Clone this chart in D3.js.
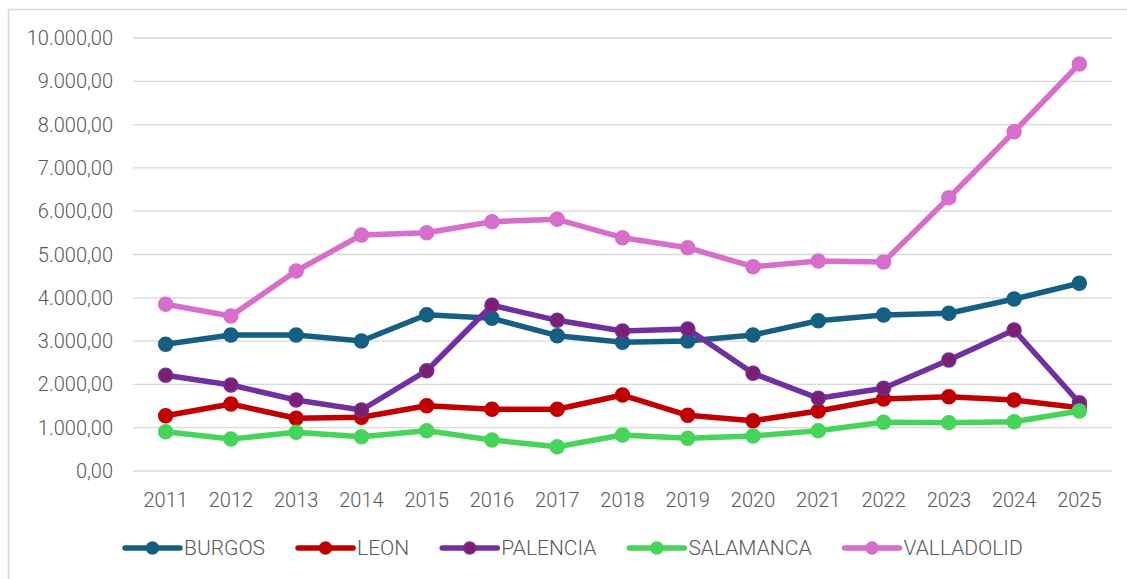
<!DOCTYPE html>
<html>
<head>
<meta charset="utf-8">
<script src="https://cdn.jsdelivr.net/npm/d3@7"></script>
<style>
  html, body { margin: 0; padding: 0; background: #fff; }
  svg { display: block; }
  text { font-family: Roboto, "Liberation Sans", sans-serif; font-weight: 300; fill: #595959; }
</style>
</head>
<body>
<div id="chart"></div>
<script>
const years = ['2011','2012','2013','2014','2015','2016','2017','2018','2019','2020','2021','2022','2023','2024','2025'];
const yTicks = [0, 1000, 2000, 3000, 4000, 5000, 6000, 7000, 8000, 9000, 10000];

const burgos     = [2926, 3141, 3141, 3002, 3610, 3526, 3125, 2972, 3002, 3141, 3471, 3603, 3642, 3972, 4335];
const leon       = [1277, 1547, 1217, 1240, 1508, 1425, 1425, 1755, 1286, 1162, 1386, 1663, 1716, 1640, 1462];
const palencia   = [2210, 1986, 1640, 1409, 2316, 3827, 3480, 3233, 3279, 2256, 1679, 1910, 2563, 3256, 1577];
const salamanca  = [908, 739, 894, 792, 931, 716, 561, 831, 755, 808, 931, 1125, 1117, 1139, 1386];
const valladolid = [3850, 3580, 4619, 5450, 5504, 5758, 5813, 5388, 5157, 4718, 4850, 4827, 6312, 7836, 9400];

const series = [
  { name: 'BURGOS', values: burgos, color: '#156082', fill: '#156082' },
  { name: 'LEON', values: leon, color: '#c00000', fill: '#c00000' },
  { name: 'PALENCIA', values: palencia, color: '#7030a0', fill: '#7b2070' },
  { name: 'SALAMANCA', values: salamanca, color: '#47d45a', fill: '#47d45a' },
  { name: 'VALLADOLID', values: valladolid, color: '#d86ecc', fill: '#d86ecc' }
];

const width = 1127, height = 579;
const svg = d3.select('#chart').append('svg')
  .attr('width', width)
  .attr('height', height);

// chart frame (cropped at right/bottom)
svg.append('rect')
  .attr('x', 8.5).attr('y', 9.5)
  .attr('width', width + 20).attr('height', height + 20)
  .attr('fill', 'none')
  .attr('stroke', '#d9d9d9')
  .attr('stroke-width', 1.5);

const x = d3.scaleBand().domain(years).range([133, 1112]);
const y = d3.scaleLinear().domain([0, 10000]).range([471, 38]);

const fmt = v => d3.format(',.2f')(v).replace(/,/g, 'X').replace('.', ',').replace(/X/g, '.');

// gridlines
svg.append('g')
  .selectAll('line')
  .data(yTicks)
  .enter().append('line')
  .attr('x1', 133).attr('x2', 1112)
  .attr('y1', d => y(d)).attr('y2', d => y(d))
  .attr('stroke', '#d9d9d9')
  .attr('stroke-width', 1.3);

// y labels
svg.append('g')
  .selectAll('text')
  .data(yTicks)
  .enter().append('text')
  .attr('x', 113)
  .attr('y', d => y(d))
  .attr('dy', '0.35em')
  .attr('text-anchor', 'end')
  .style('font-size', '20px')
  .text(d => fmt(d));

// x labels
svg.append('g')
  .selectAll('text')
  .data(years)
  .enter().append('text')
  .attr('x', d => x(d) + x.bandwidth() / 2)
  .attr('y', 500)
  .attr('dy', '0.35em')
  .attr('text-anchor', 'middle')
  .style('font-size', '20px')
  .text(d => d);

const line = d3.line()
  .x((d, i) => x(years[i]) + x.bandwidth() / 2)
  .y(d => y(d));

series.forEach(s => {
  const g = svg.append('g');
  g.append('path')
    .datum(s.values)
    .attr('d', line)
    .attr('fill', 'none')
    .attr('stroke', s.color)
    .attr('stroke-width', 5.5)
    .attr('stroke-linejoin', 'round');
  g.selectAll('circle')
    .data(s.values)
    .enter().append('circle')
    .attr('cx', (d, i) => x(years[i]) + x.bandwidth() / 2)
    .attr('cy', d => y(d))
    .attr('r', 7)
    .attr('fill', s.fill)
    .attr('stroke', s.color)
    .attr('stroke-width', 1.5);
});

// legend
const legend = svg.append('g');
let lx = 125;
const ly = 548;
series.forEach(s => {
  const item = legend.append('g');
  item.append('line')
    .attr('x1', lx).attr('x2', lx + 55)
    .attr('y1', ly).attr('y2', ly)
    .attr('stroke', s.color)
    .attr('stroke-width', 5.5)
    .attr('stroke-linecap', 'round');
  item.append('circle')
    .attr('cx', lx + 27.5).attr('cy', ly)
    .attr('r', 6)
    .attr('fill', s.fill)
    .attr('stroke', s.color)
    .attr('stroke-width', 1.5);
  const t = item.append('text')
    .attr('x', lx + 59)
    .attr('y', ly)
    .attr('dy', '0.35em')
    .style('font-size', '21px')
    .text(s.name);
  lx = lx + 59 + t.node().getComputedTextLength() + 33;
});
</script>
</body>
</html>
